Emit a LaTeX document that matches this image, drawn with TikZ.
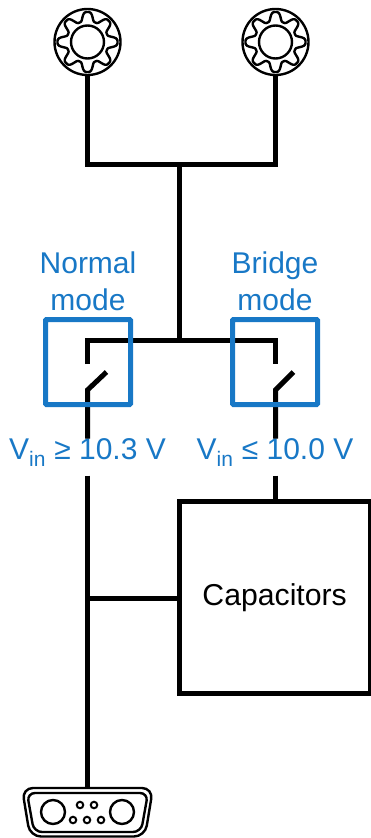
\documentclass[tikz,border=0pt]{standalone}
\usepackage{fontspec}
\setmainfont{Liberation Sans}
\usetikzlibrary{positioning}
\definecolor{modeblue}{HTML}{1878C6}
\newcommand{\gearicon}[2]{%
  \node[iconline, circle, minimum size=66pt] (#1) at (#2) {};
  \node[iconline, circle, minimum size=33pt] at (#1) {};
  \draw[iconline, shift={(#1)}] plot[domain=0:360, samples=193, smooth] (\x:{25.5+4.5*(1.5*cos(8*\x)-0.5*cos(8*\x)^3)}) -- cycle;
}
\begin{document}
\begin{tikzpicture}[
    x=1pt, y=-1pt,
    wire/.style={line width=5pt, black},
    iconline/.style={draw, line width=2.4pt, inner sep=0pt, outer sep=0pt},
    pin/.style={draw, circle, line width=2pt, inner sep=0pt, minimum size=6.5pt},
    modebox/.style={draw=modeblue, line width=5pt, rounded corners=0.8pt, minimum size=85pt, inner sep=0pt},
    bluetext/.style={text=modeblue, font=\fontsize{30}{37}\selectfont, align=center, inner sep=0pt}
  ]
  \useasboundingbox (0,0) rectangle (370,838);

  % terminals
  \gearicon{termL}{87.5,42}
  \gearicon{termR}{275.5,42}

  % blocks
  \node[draw, line width=5pt, minimum width=190.7pt, minimum height=191.5pt, inner sep=0pt,
        font=\fontsize{30.2}{36}\selectfont] (caps) at (274.65,597.25) {Capacitors};
  \node[bluetext] (condL) at (87.5,452.5) {V\textsubscript{in} ≥ 10.3 V};
  \node[bluetext] (condR) at (275,452.5) {V\textsubscript{in} ≤ 10.0 V};

  % connector at the bottom
  \draw[iconline, rounded corners=11pt] (22,788) -- (153,788) -- (145,836.5) -- (30,836.5) -- cycle;
  \draw[iconline, rounded corners=8pt] (27,793) -- (148,793) -- (141,832) -- (34,832) -- cycle;
  \node[iconline, circle, minimum size=24pt] (padL) at (53,812) {};
  \node[iconline, circle, minimum size=24pt] (padR) at (122,812) {};
  \foreach \px/\py in {80/805, 94/805, 73/820, 87/820, 101/820}
    \node[pin] at (\px,\py) {};
  \coordinate (sub) at (87.5,787);

  % wiring
  \coordinate (topL) at (87.5,164);
  \coordinate (topR) at (275.5,164);
  \coordinate (hub) at (179,164);
  \coordinate (busM) at (179,340);
  \coordinate (busL) at (87.5,340);
  \coordinate (busR) at (275.5,340);
  \coordinate (swLa) at (87.5,364);
  \coordinate (swRa) at (275.5,364);
  \coordinate (swLb) at (87.5,390);
  \coordinate (swRb) at (275.5,390);
  \coordinate (swLc) at (106.5,372);
  \coordinate (swRc) at (293.5,372);
  \coordinate (tap) at (87.5,598);

  \draw[wire] (termL.south) -- (topL) -- (topR) -- (termR.south);
  \draw[wire] (hub) -- (busM);
  \draw[wire] (swLa) -- (busL) -- (busR) -- (swRa);
  \draw[wire] (swLc) -- (swLb) -- (condL.north -| swLb);
  \draw[wire] (swRc) -- (swRb) -- (condR.north -| swRb);
  \draw[wire] (condL.south -| swLb) ++(0,9) -- (sub);
  \draw[wire] (condR.south -| swRb) ++(0,9) -- (caps.north -| swRb);
  \draw[wire] (tap) -- (caps.west |- tap);

  % mode boxes
  \node[modebox] (boxN) at (88,362) {};
  \node[modebox] (boxB) at (275,362) {};
  \node[bluetext, above=6pt of boxN] (labN) {Normal\\mode};
  \node[bluetext, above=6pt of boxB] (labB) {Bridge\\mode};
\end{tikzpicture}
\end{document}
